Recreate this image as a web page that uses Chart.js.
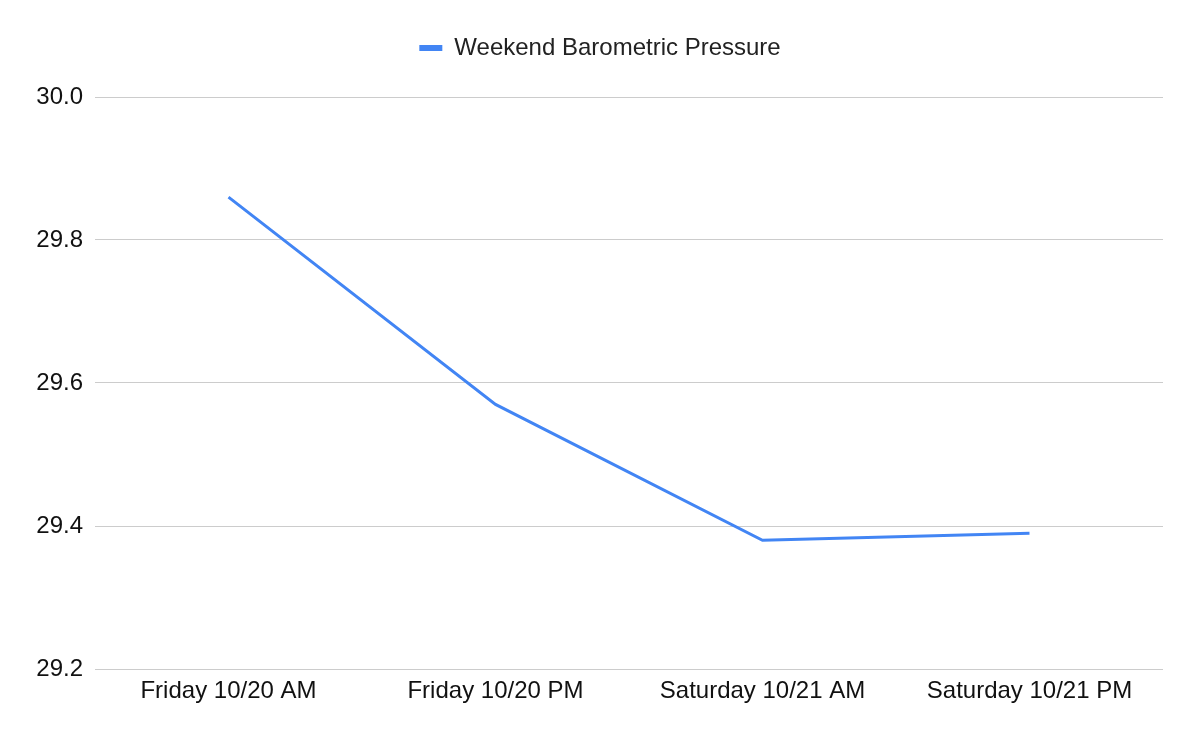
<!DOCTYPE html>
<html>
<head>
<meta charset="utf-8">
<script src="https://cdn.jsdelivr.net/npm/chart.js@4.4.0/dist/chart.umd.min.js"></script>
<style>
  html, body { margin: 0; padding: 0; background: #fff; }
  #wrap { width: 1200px; height: 742px; position: relative; }
</style>
</head>
<body>
<div id="wrap"><canvas id="pressureChart"></canvas></div>
<script>
// Weekend barometric pressure line chart

const labels = ['Friday 10/20 AM', 'Friday 10/20 PM', 'Saturday 10/21 AM', 'Saturday 10/21 PM'];
const pressure = [29.86, 29.57, 29.38, 29.39];
const yTicks = [29.2, 29.4, 29.6, 29.8, 30.0];

Chart.defaults.font.family = "'Liberation Sans', Arial, sans-serif";
Chart.defaults.color = '#222';

// push the plot down below the legend, and center the legend on the whole canvas
const legendGap = {
  id: 'legendGap',
  beforeInit(chart) {
    const fit = chart.legend.fit;
    chart.legend.fit = function () {
      fit.bind(chart.legend)();
      this.height += 27;
    };
  },
  afterLayout(chart) {
    chart.legend.right += 37;
  }
};

const ctx = document.getElementById('pressureChart').getContext('2d');

new Chart(ctx, {
  type: 'line',
  data: {
    labels: labels,
    datasets: [{
      label: 'Weekend Barometric Pressure',
      data: pressure,
      borderColor: '#4285f4',
      backgroundColor: '#4285f4',
      borderWidth: 3,
      pointRadius: 0,
      tension: 0,
      fill: false
    }]
  },
  options: {
    responsive: true,
    maintainAspectRatio: false,
    animation: false,
    layout: { padding: { top: 26, right: 37, bottom: 0, left: 0 } },
    plugins: {
      legend: {
        position: 'top',
        labels: {
          boxWidth: 23,
          boxHeight: 6,
          padding: 10,
          color: '#222',
          font: { size: 24 },
          generateLabels: (chart) => Chart.defaults.plugins.legend.labels.generateLabels(chart)
            .map(item => ({ ...item, lineWidth: 0 }))
        }
      },
      tooltip: { enabled: false }
    },
    scales: {
      x: {
        offset: true,
        grid: { display: false, drawTicks: false },
        border: { display: false },
        ticks: { font: { size: 24 }, color: '#111', padding: 8, maxRotation: 0 },
        afterFit: (scale) => { scale.height = 73; }
      },
      y: {
        min: yTicks[0],
        max: yTicks[yTicks.length - 1],
        afterBuildTicks: (scale) => { scale.ticks = yTicks.map(v => ({ value: v })); },
        grid: { color: '#cccccc', lineWidth: 1, drawTicks: false },
        border: { display: false },
        ticks: {
          font: { size: 24 },
          color: '#111',
          padding: 12,
          callback: (val) => Number(val).toFixed(1)
        },
        afterFit: (scale) => { scale.width = 95; }
      }
    }
  },
  plugins: [legendGap]
});
</script>
</body>
</html>
